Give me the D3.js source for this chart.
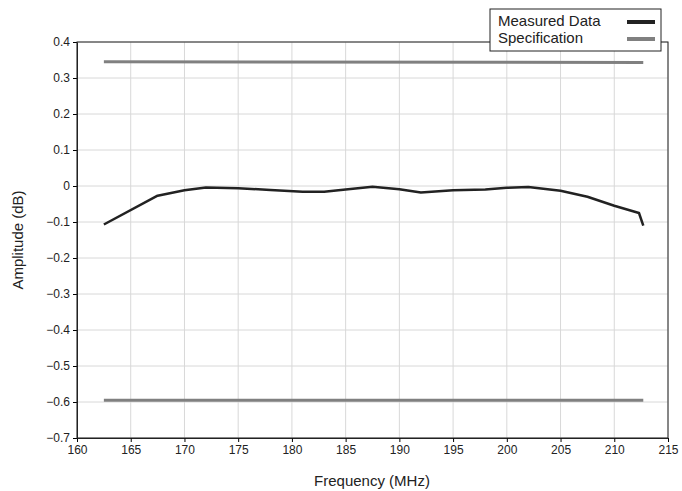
<!DOCTYPE html>
<html><head><meta charset="utf-8">
<script src="https://cdn.jsdelivr.net/npm/d3@7"></script>
<style>body{margin:0;background:#fff}svg{font-family:"Liberation Sans",Arial,sans-serif}</style>
</head><body><svg id="c" width="682" height="491"></svg>
<script>
var freq = [162.5,167.5,170,172,175,178,181,183,185,187.5,190,192,195,198,200,202,205,207.5,210,212.3,212.7];
var amp = [-0.107,-0.027,-0.012,-0.004,-0.006,-0.011,-0.016,-0.016,-0.01,-0.002,-0.009,-0.018,-0.012,-0.01,-0.005,-0.003,-0.013,-0.03,-0.055,-0.075,-0.11];
var specFreq = [162.5,212.7];
var specUpper = [0.345,0.343];
var specLower = [-0.595,-0.595];
var xTicks = d3.range(160,216,5);
var yTicks = d3.range(-7,5).map(d => d/10);

var svg = d3.select("#c");
var x = d3.scaleLinear().domain([160,215]).range([77,668]);
var y = d3.scaleLinear().domain([-0.7,0.4]).range([438,42]);

// grid
svg.append("g").selectAll("line").data(xTicks).join("line")
  .attr("x1",d=>x(d)).attr("x2",d=>x(d)).attr("y1",42).attr("y2",438)
  .attr("stroke","#d8d8d8");
svg.append("g").selectAll("line").data(yTicks).join("line")
  .attr("y1",d=>y(d)).attr("y2",d=>y(d)).attr("x1",77).attr("x2",668)
  .attr("stroke","#d8d8d8");

var fmt = d => d < 0 ? "\u2212" + d3.format(".1f")(-d) : (d === 0 ? "0" : d3.format(".1f")(d));
var xa = svg.append("g").attr("transform","translate(0,438)")
  .call(d3.axisBottom(x).tickValues(xTicks).tickSize(4).tickSizeOuter(0));
var ya = svg.append("g").attr("transform","translate(77,0)")
  .call(d3.axisLeft(y).tickValues(yTicks).tickFormat(fmt).tickSize(4).tickSizeOuter(0));
[xa,ya].forEach(a => { a.selectAll("text").attr("font-size",12).attr("fill","#222"); a.select(".domain").attr("stroke","#222"); });
svg.append("rect").attr("x",77).attr("y",42).attr("width",591).attr("height",396)
  .attr("fill","none").attr("stroke","#222");

// spec lines
[specUpper,specLower].forEach(s => {
  svg.append("path").datum(specFreq.map((f,i)=>[f,s[i]]))
    .attr("d",d3.line().x(d=>x(d[0])).y(d=>y(d[1])))
    .attr("stroke","#808080").attr("stroke-width",3).attr("fill","none");
});
svg.append("path").datum(freq.map((f,i)=>[f,amp[i]]))
  .attr("d",d3.line().x(d=>x(d[0])).y(d=>y(d[1])))
  .attr("stroke","#222").attr("stroke-width",2.5).attr("stroke-linejoin","round").attr("fill","none");

// legend
var lg = svg.append("g");
lg.append("rect").attr("x",490).attr("y",9).attr("width",171).attr("height",42)
  .attr("fill","#fff").attr("stroke","#222");
[["Measured Data","#222"],["Specification","#808080"]].forEach((e,i) => {
  lg.append("text").attr("x",498).attr("y",26+i*17).attr("font-size",15).attr("fill","#222").text(e[0]);
  lg.append("line").attr("x1",627).attr("x2",655).attr("y1",22+i*17).attr("y2",22+i*17)
    .attr("stroke",e[1]).attr("stroke-width",4);
});

svg.append("text").attr("x",372).attr("y",486).attr("text-anchor","middle").attr("font-size",15).attr("fill","#222").text("Frequency (MHz)");
svg.append("text").attr("transform","translate(23,240) rotate(-90)").attr("text-anchor","middle").attr("font-size",15).attr("fill","#222").text("Amplitude (dB)");
</script></body></html>
